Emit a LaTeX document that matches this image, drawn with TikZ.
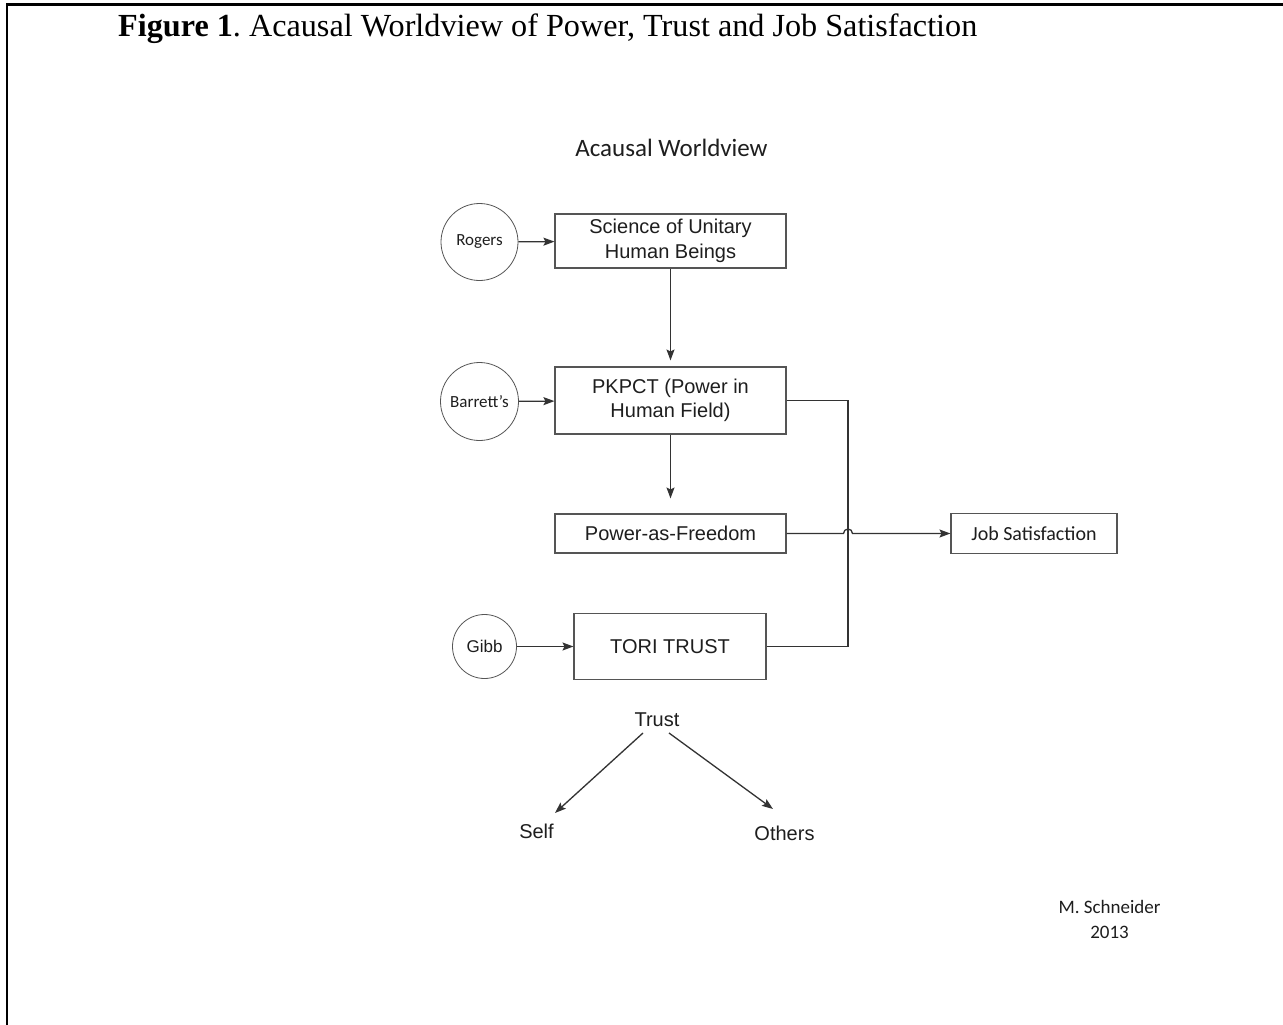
\documentclass[tikz,border=0pt]{standalone}
\usepackage{fontspec}
\setmainfont{Liberation Serif}
\newfontfamily\arial{Liberation Sans}
\newfontfamily\calibri{Carlito}
\usetikzlibrary{arrows.meta}
\definecolor{ln}{HTML}{333333}
\definecolor{bx}{HTML}{555555}
\definecolor{tx}{HTML}{1E1E1E}
\frenchspacing
\begin{document}
\begin{tikzpicture}[x=1pt,y=-1pt,
 box/.style={draw=bx,line width=1.1pt,inner sep=0pt,align=center,text=tx,font=\arial\fontsize{20}{24.5}\selectfont},
 circ/.style={circle,draw=bx,line width=0.8pt,inner sep=0pt,text=tx,font=\calibri\fontsize{17}{20}\selectfont},
 arr/.style={draw=ln,line width=1.3pt,-{Stealth[length=11pt,width=8pt,inset=2pt]}},
 conn/.style={draw=ln,line width=1.3pt},
 lbl/.style={inner sep=0pt,text=tx,font=\arial\fontsize{20}{24}\selectfont}]
\useasboundingbox (0,0) rectangle (1283,1025);
\fill[white] (0,0) rectangle (1283,1025);
\draw[line width=2.2pt] (7,1025) -- (7,4.5) -- (1283,4.5);
% title
\node[anchor=base west,inner sep=0pt,font=\fontsize{32.2}{38}\selectfont] (title) at (118,37) {\textbf{Figure 1}. Acausal Worldview of Power, Trust and Job Satisfaction};
\node[anchor=base,inner sep=0pt,text=tx,font=\calibri\fontsize{25}{30}\selectfont] (head) at (671.5,156) {Acausal Worldview};
% circles
\node[circ,minimum size=77pt] (rogers) at (479.5,242) {Rogers};
\node[circ,minimum size=78pt] (barrett) at (479.5,401.5) {Barrett’s};
\node[circ,minimum size=64pt,font=\arial\fontsize{17}{20}\selectfont] (gibb) at (484.5,646.5) {Gibb};
% boxes
\node[box,minimum width=231pt,minimum height=54pt] (science) at (670.5,241) {Science of Unitary\\Human Beings};
\node[box,minimum width=231pt,minimum height=67pt] (pkpct) at (670.5,400.5) {PKPCT (Power in\\Human Field)};
\node[box,minimum width=231pt,minimum height=39pt] (paf) at (670.5,533.5) {Power-as-Freedom};
\node[box,minimum width=166pt,minimum height=40pt,font=\calibri\fontsize{20}{24}\selectfont] (job) at (1034,533.5) {Job Satisfaction};
\node[box,minimum width=192pt,minimum height=66pt] (tori) at (670,646.5) {TORI TRUST};
% labels
\node[lbl,anchor=base] (trust) at (657,726) {Trust};
\node[lbl,anchor=base] (self) at (536.5,838) {Self};
\node[lbl,anchor=base] (others) at (784.5,840) {Others};
\node[inner sep=0pt,align=center,text=tx,font=\calibri\fontsize{19}{25}\selectfont,anchor=base] (author) at (1109.5,938) {M. Schneider\\2013};
% connector points
\coordinate (c1) at (848,400.5);
\coordinate (c2) at (848,646.5);
\coordinate (hop) at (843.5,533.5);
\coordinate (tA) at (643,733);
\coordinate (tB) at (669,733);
\coordinate (sA) at (555,813);
\coordinate (oA) at (773,809);
% connectors
\draw[arr] (rogers) -- (science);
\draw[arr] (barrett) -- (pkpct);
\draw[arr] (gibb) -- (tori);
\draw[arr,shorten >=6pt] (science) -- (pkpct);
\draw[arr,shorten >=15pt] (pkpct) -- (paf);
\draw[conn] (pkpct.east) -- (c1) -- (c2) -- (tori.east);
\draw[arr] (paf.east) -- (hop) arc[start angle=180,end angle=0,radius=4.5pt] -- (job.west);
\draw[arr] (tA) -- (sA);
\draw[arr] (tB) -- (oA);
\end{tikzpicture}
\end{document}
